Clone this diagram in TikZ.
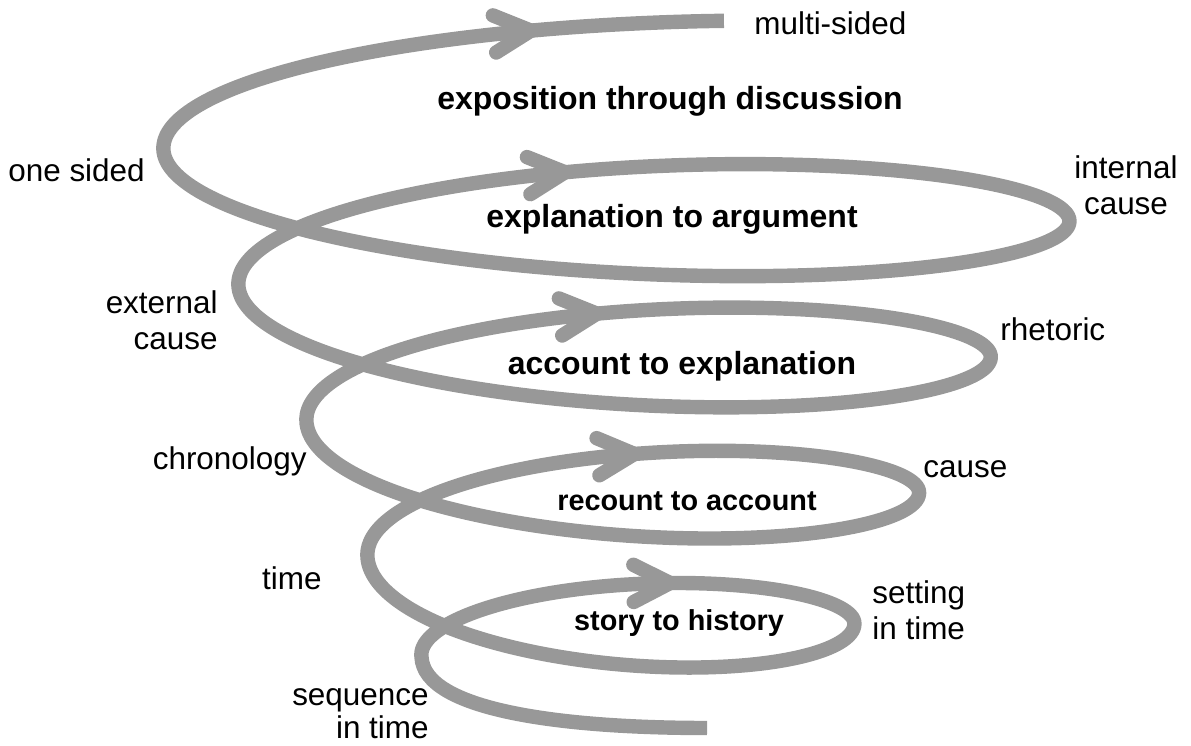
\documentclass[tikz,border=0pt]{standalone}
\usepackage{fontspec}
\setmainfont{Liberation Sans}
\definecolor{spiralgray}{RGB}{152,152,152}
\tikzset{
  spiral/.style={draw=spiralgray, line width=8.2pt, line join=round},
  chevron/.style={spiral, line cap=round},
  lbl/.style={inner sep=0pt, font=\fontsize{17.9}{21}\selectfont},
  ttl/.style={inner sep=0pt, font=\fontsize{18.2}{21}\selectfont\bfseries},
  ttlsmall/.style={inner sep=0pt, font=\fontsize{16.4}{19}\selectfont\bfseries},
}
\begin{document}
\begin{tikzpicture}[x=0.02cm, y=-0.02cm,
    declare function={
      spx(\s)=623+3.6*\s-(201.5+54.1*\s+3.5*\s*\s)*cos(360*\s);
      spy(\s)=694.5-135.8*\s-37.5*exp(-4*\s)-(60+8*\s)*max(sin(360*\s),0)-(70.6+4.76*\s)*min(sin(360*\s),0);
    }]
  \useasboundingbox (0,0) rectangle (1191,746);

  % Spiral
  \coordinate (start) at (707,728);
  \coordinate (turn0) at ({spx(0)},{spy(0)});
  \draw[spiral] (start) .. controls (560,728) and (424,710) .. (turn0)
    -- plot[smooth, domain=0:4.281, samples=600, variable=\t] ({spx(\t)},{spy(\t)});

  % Arrows
  \foreach \t [count=\i] in {0.284,1.254,2.234,3.223,4.215}{
    \pgfmathsetmacro\ang{atan2(spy(\t+0.004)-spy(\t-0.004),spx(\t+0.004)-spx(\t-0.004))}
    \coordinate (tip\i) at ({spx(\t)},{spy(\t)});
    \draw[chevron] ([shift={(\ang+153:41)}]tip\i) -- (tip\i) -- ([shift={(\ang-153:41)}]tip\i);
  }

  % Stages
  \node[ttl, anchor=base] (exposition) at (670,110) {exposition through discussion};
  \node[ttl, anchor=base] (explanation) at (672,228) {explanation to argument};
  \node[ttl, anchor=base] (account) at (682,375) {account to explanation};
  \node[ttlsmall, anchor=base] (recount) at (687,511) {recount to account};
  \node[ttlsmall, anchor=base] (story) at (679,631) {story to history};

  % Labels (base = last line)
  \node[lbl, anchor=base west] (multisided) at (754,35) {multi-sided};
  \node[lbl, anchor=base west] (onesided) at (8,182) {one sided};
  \node[lbl, align=center, anchor=base] (internal) at (1126,215) {internal\\cause};
  \node[lbl, align=right, anchor=base east] (external) at (218,350) {external\\cause};
  \node[lbl, anchor=base west] (rhetoric) at (1000,341) {rhetoric};
  \node[lbl, anchor=base east] (chronology) at (307,470) {chronology};
  \node[lbl, anchor=base west] (cause) at (923,478) {cause};
  \node[lbl, anchor=base east] (time) at (322,590) {time};
  \node[lbl, align=left, anchor=base west] (setting) at (872,640) {setting\\in time};
  \node[lbl, align=right, anchor=base east] (sequence) at (429,738) {sequence\\[-2.3pt]in time};
\end{tikzpicture}
\end{document}
